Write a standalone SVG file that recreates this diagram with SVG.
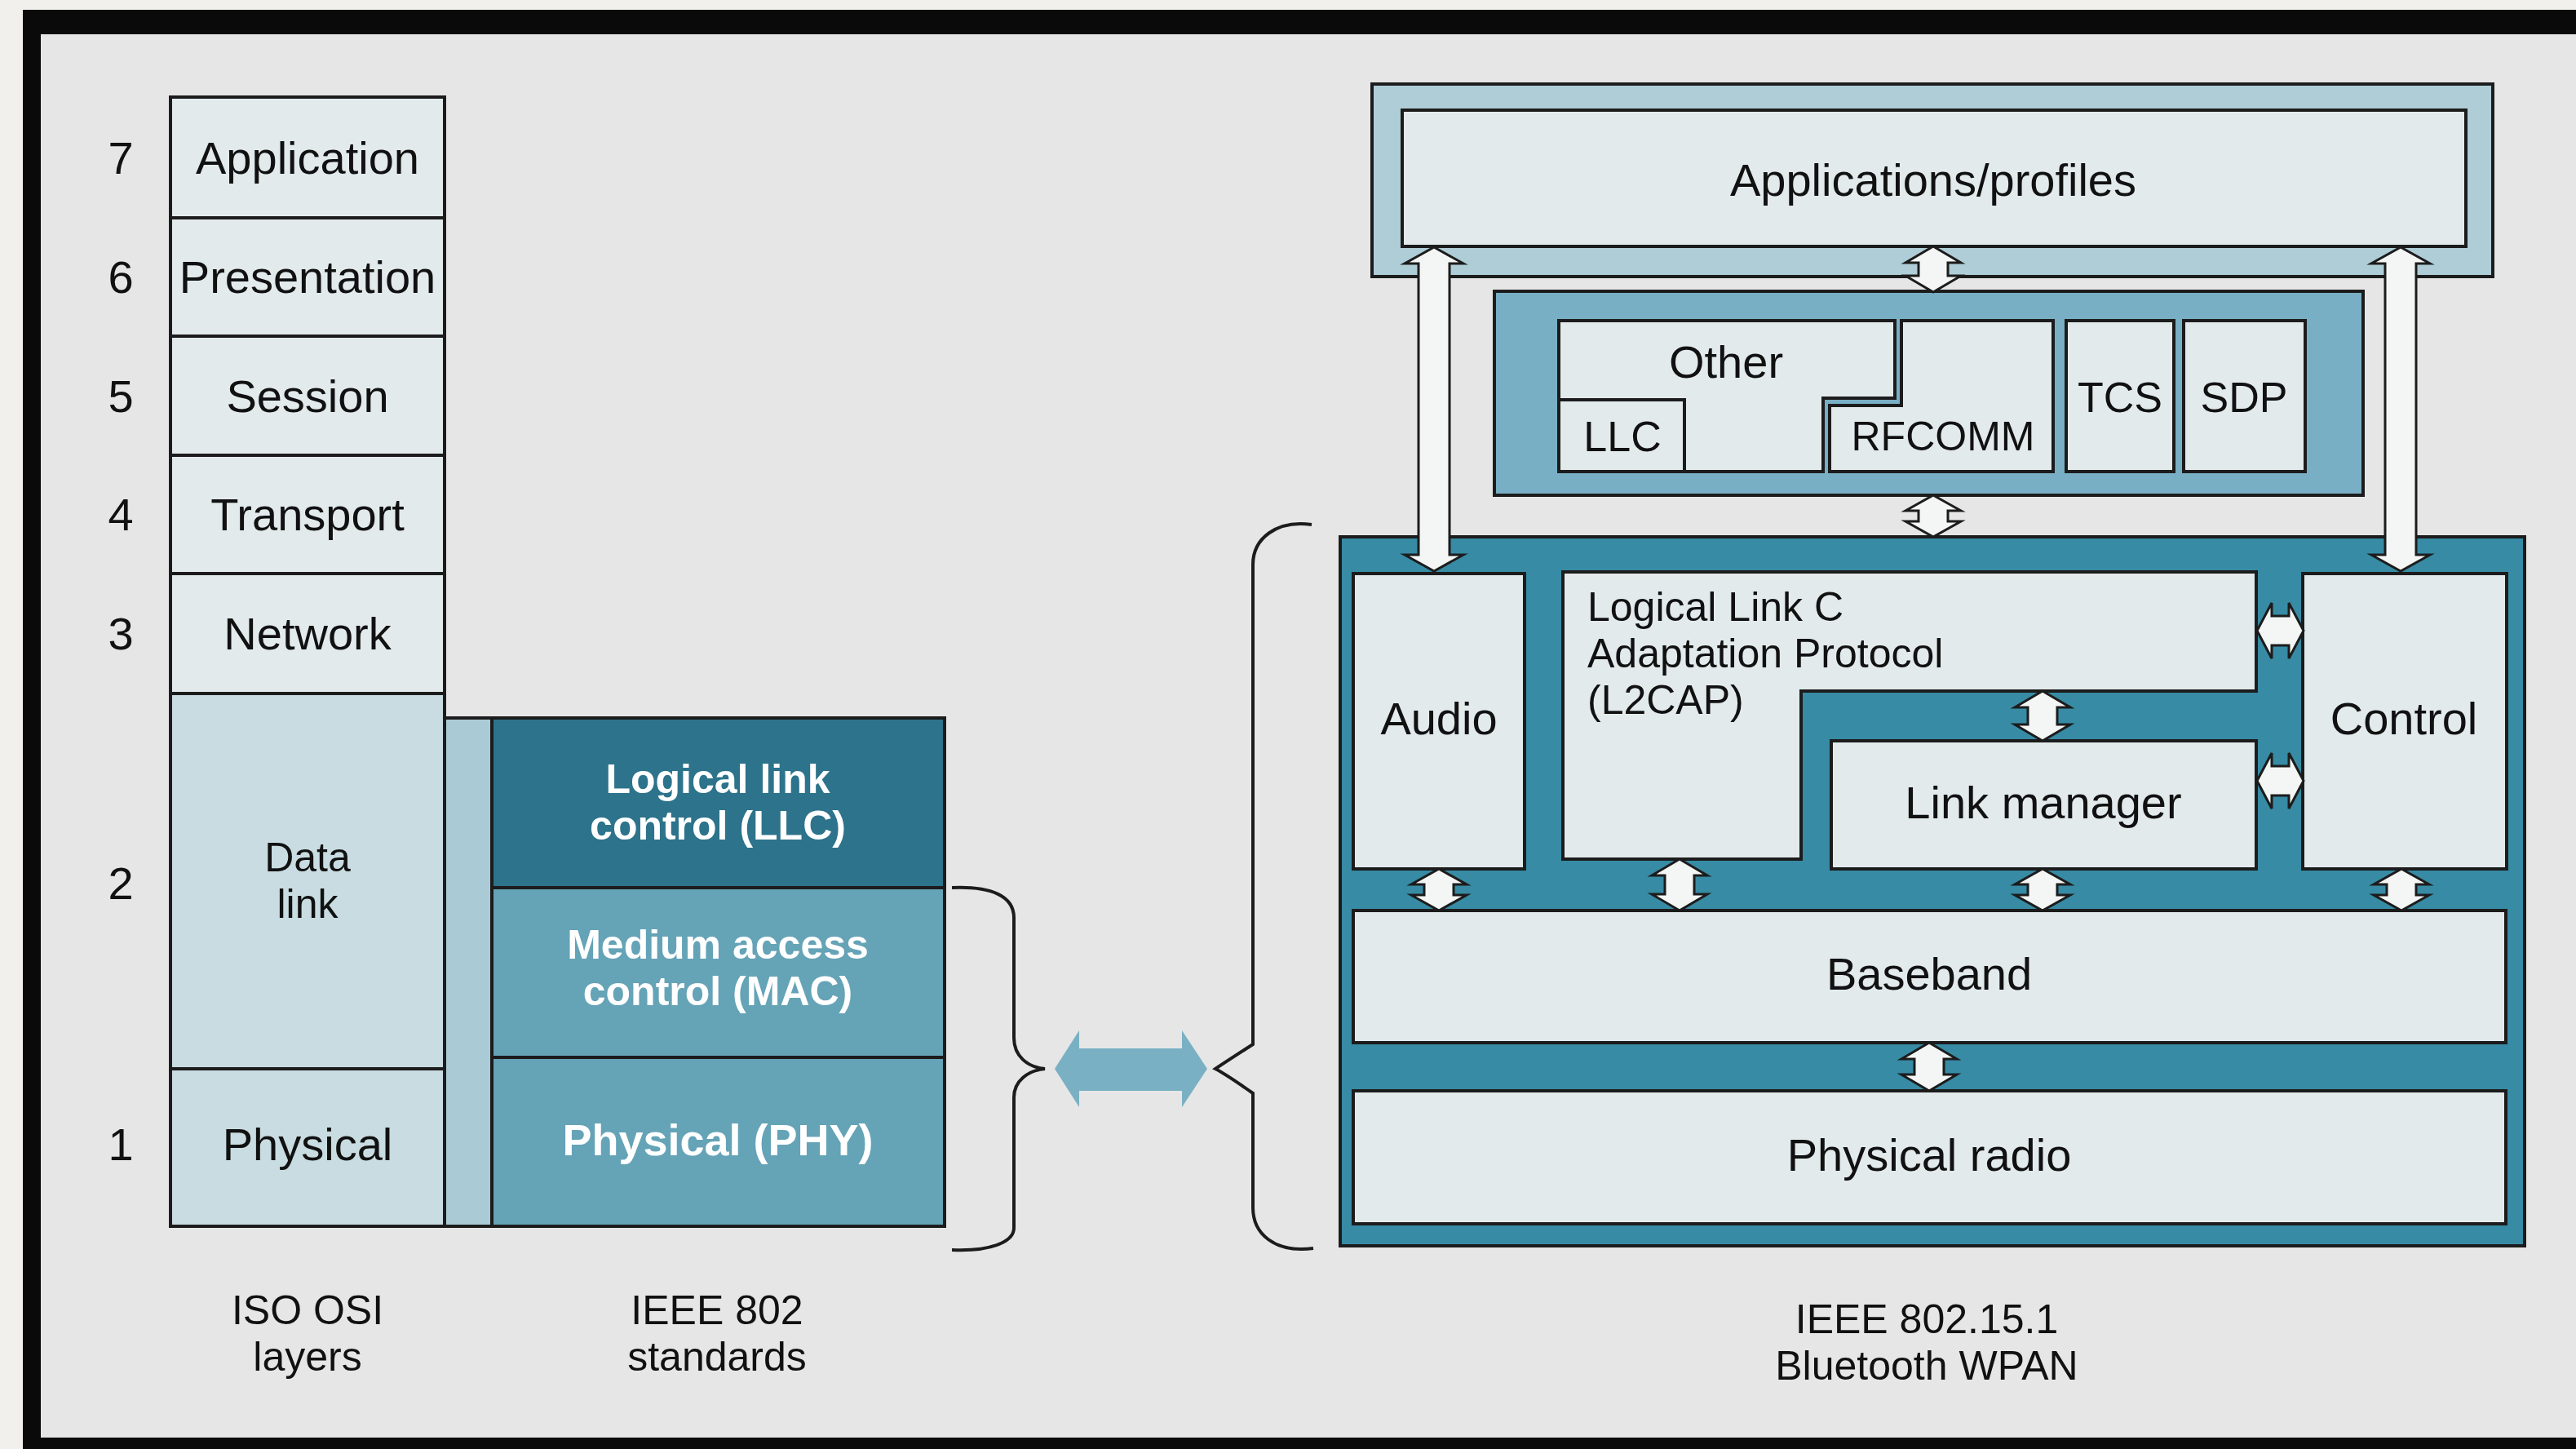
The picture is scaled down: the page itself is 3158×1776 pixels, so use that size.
<svg xmlns="http://www.w3.org/2000/svg" width="3158" height="1776" viewBox="0 0 3158 1776">
<style>
.t{font-family:"Liberation Sans",Arial,sans-serif;font-size:56px;fill:#111;text-anchor:middle}
.m{font-size:50px}
.tl{text-anchor:start}
.w{font-weight:bold;fill:#fff;font-size:50px}
.bx{fill:#e2eaec;stroke:#1c1c1c;stroke-width:4}
.dl{fill:#c8dce1;stroke:#1c1c1c;stroke-width:4}
.ar{fill:#f4f6f6;stroke:#1c1c1c;stroke-width:3;stroke-linejoin:miter}
.br{fill:none;stroke:#1c1c1c;stroke-width:4}
</style>
<!-- background frame -->
<rect x="0" y="0" width="3158" height="1776" fill="#f1f0ec"/>
<rect x="28" y="12" width="3130" height="1764" fill="#0a0a0a"/>
<rect x="50" y="42" width="3108" height="1720" fill="#e6e6e6"/>

<!-- ISO OSI stack -->
<g id="osi-application"><rect class="bx" x="209" y="119" width="336" height="148"/><text class="t" x="377" y="213">Application</text><text class="t" x="148" y="213">7</text></g>
<g id="osi-presentation"><rect class="bx" x="209" y="267" width="336" height="145"/><text class="t" x="377" y="359">Presentation</text><text class="t" x="148" y="359">6</text></g>
<g id="osi-session"><rect class="bx" x="209" y="412" width="336" height="146"/><text class="t" x="377" y="505">Session</text><text class="t" x="148" y="505">5</text></g>
<g id="osi-transport"><rect class="bx" x="209" y="558" width="336" height="145"/><text class="t" x="377" y="650">Transport</text><text class="t" x="148" y="650">4</text></g>
<g id="osi-network"><rect class="bx" x="209" y="703" width="336" height="147"/><text class="t" x="377" y="796">Network</text><text class="t" x="148" y="796">3</text></g>
<g id="osi-datalink"><rect class="dl" x="209" y="850" width="336" height="460"/><text class="t m" x="377" y="1068">Data<tspan x="377" dy="57">link</tspan></text><text class="t" x="148" y="1102">2</text></g>
<g id="osi-physical"><rect class="dl" x="209" y="1310" width="336" height="193"/><text class="t" x="377" y="1422">Physical</text><text class="t" x="148" y="1422">1</text></g>
<g id="osi-label"><text class="t m" x="377" y="1623">ISO OSI<tspan x="377" dy="57">layers</tspan></text></g>

<!-- IEEE 802 stack -->
<g id="ieee-strip"><rect x="545" y="880" width="58" height="623" fill="#aacbd5" stroke="#1c1c1c" stroke-width="4"/></g>
<g id="ieee-llc"><rect x="603" y="880" width="555" height="208" fill="#2c738b" stroke="#1c1c1c" stroke-width="4"/><text class="t w" x="880" y="972">Logical link<tspan x="880" dy="57">control (LLC)</tspan></text></g>
<g id="ieee-mac"><rect x="603" y="1088" width="555" height="208" fill="#65a3b7" stroke="#1c1c1c" stroke-width="4"/><text class="t w" x="880" y="1175">Medium access<tspan x="880" dy="57">control (MAC)</tspan></text></g>
<g id="ieee-phy"><rect x="603" y="1296" width="555" height="207" fill="#65a3b7" stroke="#1c1c1c" stroke-width="4"/><text class="t w" x="880" y="1416" style="font-size:54px">Physical (PHY)</text></g>
<g id="ieee-label"><text class="t m" x="879" y="1623">IEEE 802<tspan x="879" dy="57">standards</tspan></text></g>

<!-- Bluetooth stack -->
<g id="bt-apps-outer"><rect x="1682" y="103" width="1374" height="236" fill="#aecdd6" stroke="#1c1c1c" stroke-width="4"/></g>
<g id="bt-apps"><rect class="bx" x="1719" y="135" width="1304" height="167"/><text class="t" x="2370" y="240">Applications/profiles</text></g>
<g id="bt-middle"><rect x="1832" y="357" width="1065" height="250" fill="#78afc4" stroke="#1c1c1c" stroke-width="4"/></g>
<g id="bt-other"><path class="bx" d="M1911,393 L2323,393 L2323,488 L2235,488 L2235,578 L1911,578 Z"/><text class="t" x="2116" y="463">Other</text></g>
<g id="bt-llc"><rect class="bx" x="1911" y="490" width="154" height="88"/><text class="t" x="1989" y="553" style="font-size:52px">LLC</text></g>
<g id="bt-rfcomm"><path class="bx" d="M2331,393 L2517,393 L2517,578 L2243,578 L2243,497 L2331,497 Z"/><text class="t" x="2382" y="552" style="font-size:50px">RFCOMM</text></g>
<g id="bt-tcs"><rect class="bx" x="2533" y="393" width="132" height="185"/><text class="t" x="2599" y="505" style="font-size:52px">TCS</text></g>
<g id="bt-sdp"><rect class="bx" x="2677" y="393" width="149" height="185"/><text class="t" x="2751" y="505" style="font-size:52px">SDP</text></g>
<g id="bt-core"><rect x="1643" y="658" width="1452" height="869" fill="#378ba4" stroke="#1c1c1c" stroke-width="4"/></g>
<g id="bt-audio"><rect class="bx" x="1659" y="703" width="210" height="362"/><text class="t" x="1764" y="900">Audio</text></g>
<g id="bt-l2cap"><path class="bx" d="M1916,701 L2766,701 L2766,847 L2208,847 L2208,1053 L1916,1053 Z"/><text class="t tl m" x="1946" y="761">Logical Link C<tspan x="1946" dy="57">Adaptation Protocol</tspan><tspan x="1946" dy="57">(L2CAP)</tspan></text></g>
<g id="bt-linkmanager"><rect class="bx" x="2245" y="908" width="521" height="157"/><text class="t" x="2505" y="1003">Link manager</text></g>
<g id="bt-control"><rect class="bx" x="2823" y="703" width="250" height="362"/><text class="t" x="2947" y="900">Control</text></g>
<g id="bt-baseband"><rect class="bx" x="1659" y="1116" width="1413" height="162"/><text class="t" x="2365" y="1213">Baseband</text></g>
<g id="bt-radio"><rect class="bx" x="1659" y="1337" width="1413" height="163"/><text class="t" x="2365" y="1435">Physical radio</text></g>
<g id="bt-label"><text class="t m" x="2362" y="1634">IEEE 802.15.1<tspan x="2362" dy="57">Bluetooth WPAN</tspan></text></g>

<!-- connectors -->
<g id="connectors">
<path class="br" d="M1167,1088 C1215,1086 1243,1098 1243,1125 L1243,1272 C1243,1295 1260,1308 1281,1310 C1260,1312 1243,1325 1243,1345 L1243,1505 C1243,1522 1215,1534 1167,1532"/>
<path class="br" d="M1608,643 C1565,637 1536,660 1536,692 L1536,1280 Q1505,1300 1490,1310 Q1505,1318 1536,1340 L1536,1480 C1536,1512 1562,1536 1610,1530"/>
<polygon fill="#7ab0c4" points="1293,1310 1323,1263 1323,1285 1449,1285 1449,1263 1480,1310 1449,1357 1449,1337 1323,1337 1323,1357"/>
<path class="ar" d="M1758,303 L1794,323 L1777,323 L1777,680 L1794,680 L1758,700 L1722,680 L1739,680 L1739,323 L1722,323 Z"/>
<path class="ar" d="M2943,303 L2979,323 L2962,323 L2962,680 L2979,680 L2943,700 L2907,680 L2924,680 L2924,323 L2907,323 Z"/>
<path class="ar" d="M2370,302 L2404,322 L2388,322 L2388,338 L2404,338 L2370,358 L2336,338 L2352,338 L2352,322 L2336,322 Z"/>
<path class="ar" d="M2370,607 L2404,626 L2388,626 L2388,639 L2404,639 L2370,658 L2336,639 L2352,639 L2352,626 L2336,626 Z"/>
<path class="ar" d="M1764,1065 L1798,1084 L1782,1084 L1782,1097 L1798,1097 L1764,1116 L1730,1097 L1746,1097 L1746,1084 L1730,1084 Z"/>
<path class="ar" d="M2059,1053 L2093,1073 L2077,1073 L2077,1096 L2093,1096 L2059,1116 L2025,1096 L2041,1096 L2041,1073 L2025,1073 Z"/>
<path class="ar" d="M2504,1065 L2538,1084 L2522,1084 L2522,1097 L2538,1097 L2504,1116 L2470,1097 L2486,1097 L2486,1084 L2470,1084 Z"/>
<path class="ar" d="M2944,1065 L2978,1084 L2962,1084 L2962,1097 L2978,1097 L2944,1116 L2910,1097 L2926,1097 L2926,1084 L2910,1084 Z"/>
<path class="ar" d="M2504,847 L2538,867 L2522,867 L2522,888 L2538,888 L2504,908 L2470,888 L2486,888 L2486,867 L2470,867 Z"/>
<path class="ar" d="M2365,1278 L2399,1298 L2383,1298 L2383,1317 L2399,1317 L2365,1337 L2331,1317 L2347,1317 L2347,1298 L2331,1298 Z"/>
<path class="ar" d="M2767,773 L2785,739 L2785,755 L2806,755 L2806,739 L2824,773 L2806,807 L2806,791 L2785,791 L2785,807 Z"/>
<path class="ar" d="M2767,957 L2785,923 L2785,939 L2806,939 L2806,923 L2824,957 L2806,991 L2806,975 L2785,975 L2785,991 Z"/>
</g>
</svg>
